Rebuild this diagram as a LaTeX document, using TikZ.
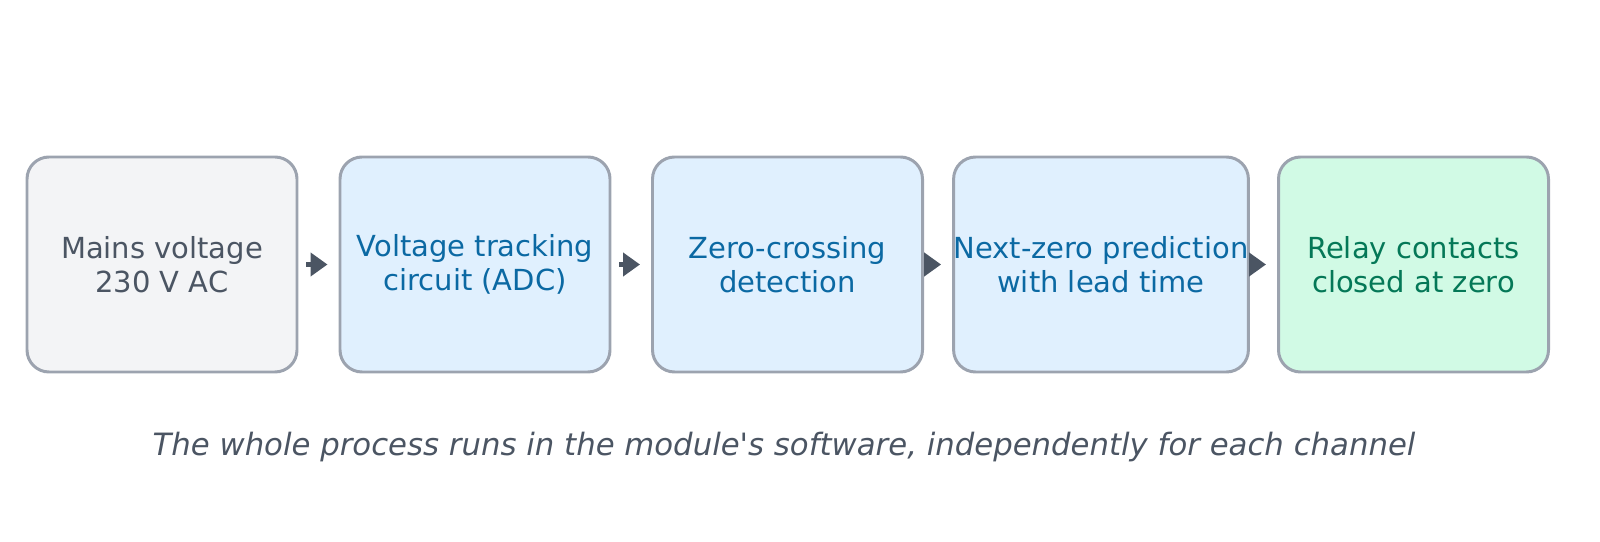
\documentclass[tikz,border=0pt]{standalone}
\usepackage{fontspec}
\setmainfont{DejaVu Sans}
\usetikzlibrary{positioning,arrows.meta}
\definecolor{edgegray}{HTML}{9CA3AF}
\definecolor{darkgray}{HTML}{4B5563}
\definecolor{grayfill}{HTML}{F3F4F6}
\definecolor{bluefill}{HTML}{E0F0FE}
\definecolor{bluetext}{HTML}{0B69A3}
\definecolor{greenfill}{HTML}{D1FAE5}
\definecolor{greentext}{HTML}{047857}
\tikzset{
    stage/.style={draw=edgegray, line width=1.7pt, rounded corners=0.44cm, minimum width=5.4cm, minimum height=4.3cm, inner sep=0pt, align=center, font=\fontsize{16.5}{19.5}\selectfont},
    flow/.style={-{Triangle[length=0.34cm,width=0.46cm]}, line width=3pt, darkgray, shorten <=0.16cm, shorten >=0.22cm}
}
\begin{document}
\begin{tikzpicture}
        \useasboundingbox (0, 0) rectangle (32, 10.82);
        \node[stage, fill=grayfill, text=darkgray] (mains) at (3.24, 5.53) {Mains voltage\\230 V AC};
        \node[stage, fill=bluefill, text=bluetext] (adc) at (9.5, 5.53) {Voltage tracking\\circuit (ADC)};
        \node[stage, fill=bluefill, text=bluetext] (zero) at (15.75, 5.53) {Zero-crossing\\detection};
        \node[stage, fill=bluefill, text=bluetext] (predict) at (22.02, 5.53) {Next-zero prediction\\with lead time};
        \node[stage, fill=greenfill, text=greentext] (relay) at (28.27, 5.53) {Relay contacts\\closed at zero};
        \draw[flow] (mains) -- (adc);
        \draw[flow] (adc) -- (zero);
        \draw[flow] (zero) -- (predict);
        \draw[flow] (predict) -- (relay);
        \node[text=darkgray, font=\fontsize{17.5}{21}\selectfont\itshape] (caption) at (15.68, 1.88) {The whole process runs in the module\textquotesingle s software, independently for each channel};
    \end{tikzpicture}
\end{document}
